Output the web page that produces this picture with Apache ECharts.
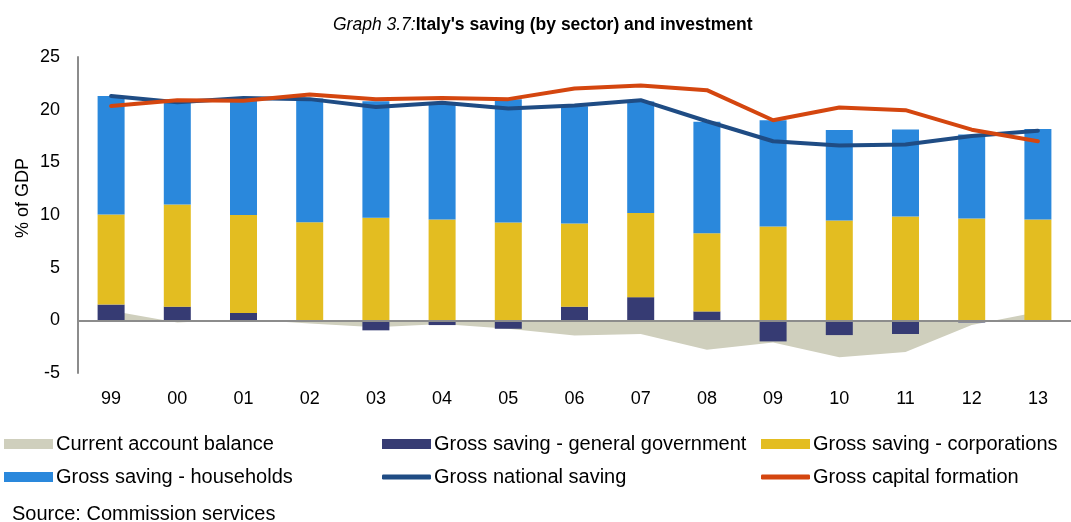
<!DOCTYPE html>
<html>
<head>
<meta charset="utf-8">
<script src="https://cdn.jsdelivr.net/npm/echarts@6/dist/echarts.min.js"></script>
<style>
  html, body { margin: 0; padding: 0; background: #fff; }
  #chart { width: 1071px; height: 522px; }
</style>
</head>
<body>
<div id="chart"></div>
<script>
var years = ['99', '00', '01', '02', '03', '04', '05', '06', '07', '08', '09', '10', '11', '12', '13'];
var currentAccount = [0.9, -0.2, 0.1, -0.3, -0.65, -0.35, -0.8, -1.45, -1.3, -2.8, -2.1, -3.5, -3.0, -0.45, 0.8];
var govSaving = [1.5, 1.3, 0.7, -0.05, -0.95, -0.45, -0.8, 1.3, 2.2, 0.85, -2.0, -1.4, -1.3, -0.2, -0.15];
var corpSaving = [8.55, 9.7, 9.3, 9.3, 9.73, 9.57, 9.29, 7.9, 7.98, 7.41, 8.9, 9.48, 9.86, 9.67, 9.57];
var hhSaving = [11.25, 9.7, 11.0, 11.75, 11.07, 11.1, 11.7, 11.13, 10.6, 10.6, 10.1, 8.6, 8.25, 7.98, 8.6];
var nationalSaving = [21.3, 20.7, 21.1, 21.0, 20.25, 20.65, 20.1, 20.4, 20.9, 18.9, 17.0, 16.6, 16.7, 17.5, 18.0];
var capitalFormation = [20.35, 20.9, 20.85, 21.45, 21.0, 21.1, 21.0, 22.0, 22.3, 21.85, 19.0, 20.2, 19.95, 18.1, 17.0];

var font = 'Liberation Sans, Arial, sans-serif';

var myChart = echarts.init(document.getElementById('chart'), null, { renderer: 'canvas' });

function legendItem(name, left, top, h) {
    return {
        data: [name],
        left: left,
        top: top,
        padding: 0,
        itemWidth: 49,
        itemHeight: h,
        icon: h < 10 ? 'roundRect' : 'rect',
        selectedMode: false,
        textStyle: { fontFamily: font, fontSize: 20, color: '#000', padding: [0, 0, 0, -2] }
    };
}

var option = {
    animation: false,
    title: [
        {
            text: '{i|Graph 3.7:}{b|Italy\'s saving (by sector) and investment}',
            left: 333,
            top: 16,
            padding: 0,
            textStyle: {
                rich: {
                    i: { fontFamily: font, fontSize: 17.5, fontStyle: 'italic', fontWeight: 'normal', color: '#000' },
                    b: { fontFamily: font, fontSize: 17.5, fontWeight: 'bold', color: '#000' }
                }
            }
        },
        {
            text: 'Source: Commission services',
            left: 12,
            top: 504,
            padding: 0,
            textStyle: { fontFamily: font, fontSize: 20, fontWeight: 'normal', color: '#000' }
        }
    ],
    legend: [
        legendItem('Current account balance', 4, 434, 10),
        legendItem('Gross saving - households', 4, 467, 10),
        legendItem('Gross saving - general government', 382, 434, 10),
        legendItem('Gross national saving', 382, 467, 5),
        legendItem('Gross saving - corporations', 761, 434, 10),
        legendItem('Gross capital formation', 761, 467, 5)
    ],
    graphic: [
        {
            type: 'text',
            x: 23,
            y: 198,
            rotation: Math.PI / 2,
            style: {
                text: '% of GDP',
                font: '18px ' + font,
                fill: '#000',
                align: 'center',
                verticalAlign: 'middle'
            }
        }
    ],
    grid: { left: 78, right: -13, top: 57, bottom: 149 },
    xAxis: {
        type: 'category',
        data: years,
        axisLine: { show: false },
        axisTick: { show: false },
        axisLabel: { fontFamily: font, fontSize: 18, color: '#000', margin: 17 }
    },
    yAxis: {
        type: 'value',
        min: -5,
        max: 25,
        interval: 5,
        splitLine: { show: false },
        axisTick: { show: false },
        axisLine: { show: true, lineStyle: { color: '#8c8c8c', width: 2 } },
        axisLabel: { fontFamily: font, fontSize: 18, color: '#000', margin: 18 }
    },
    series: [
        {
            name: 'Current account balance',
            type: 'line',
            z: 1,
            data: currentAccount,
            symbol: 'none',
            lineStyle: { width: 0 },
            itemStyle: { color: '#CFCFBD' },
            areaStyle: { color: '#CFCFBD', opacity: 1 }
        },
        {
            name: 'Gross saving - general government',
            type: 'bar',
            stack: 'saving',
            z: 3,
            barWidth: 27,
            data: govSaving,
            itemStyle: { color: '#363B73' },
            markLine: {
                silent: true,
                symbol: 'none',
                label: { show: false },
                lineStyle: { color: '#8c8c8c', width: 2, type: 'solid' },
                data: [{ yAxis: 0 }]
            }
        },
        {
            name: 'Gross saving - corporations',
            type: 'bar',
            stack: 'saving',
            z: 3,
            barWidth: 27,
            data: corpSaving,
            itemStyle: { color: '#E3BD21' }
        },
        {
            name: 'Gross saving - households',
            type: 'bar',
            stack: 'saving',
            z: 3,
            barWidth: 27,
            data: hhSaving,
            itemStyle: { color: '#2A88DC' }
        },
        {
            name: 'Gross national saving',
            type: 'line',
            z: 4,
            data: nationalSaving,
            symbol: 'none',
            lineStyle: { color: '#1F4C84', width: 4, cap: 'round' },
            itemStyle: { color: '#1F4C84' }
        },
        {
            name: 'Gross capital formation',
            type: 'line',
            z: 4,
            data: capitalFormation,
            symbol: 'none',
            lineStyle: { color: '#D4460F', width: 4, cap: 'round' },
            itemStyle: { color: '#D4460F' }
        }
    ]
};

myChart.setOption(option);
window.addEventListener('resize', myChart.resize);
</script>
</body>
</html>
